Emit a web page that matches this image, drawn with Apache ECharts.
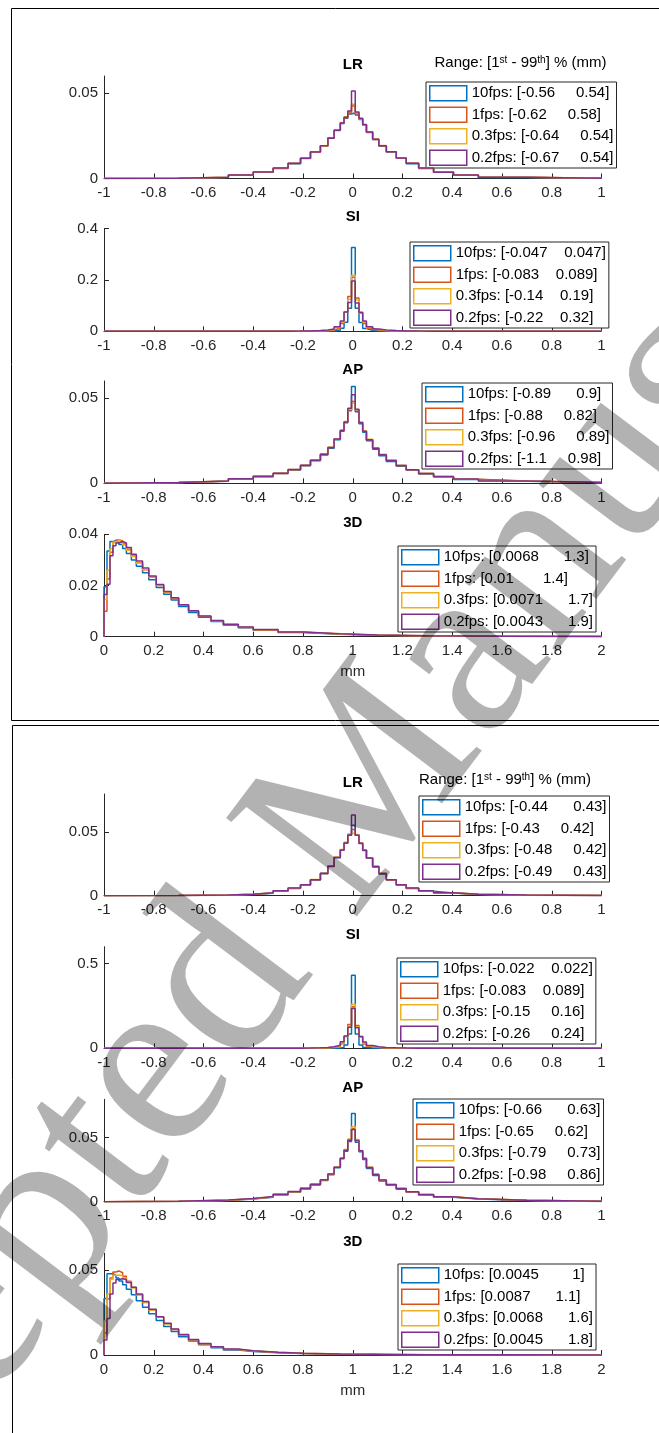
<!DOCTYPE html>
<html>
<head>
<meta charset="utf-8">
<script src="https://cdn.jsdelivr.net/npm/echarts@6/dist/echarts.min.js"></script>
<style>
html,body{margin:0;padding:0;background:#fff;}
#c{width:659px;height:1433px;}
</style>
</head>
<body>
<div id="c"></div>
<script>
// ---------------- DATA ----------------
const SERIES_NAMES = ['10fps', '1fps', '0.3fps', '0.2fps'];
const PANEL_TITLES = ['LR', 'SI', 'AP', '3D'];

// bin edges (mm)
const EDGES_SYM = [-1, -0.7, -0.5, -0.4, -0.32, -0.26, -0.21, -0.17, -0.13, -0.1, -0.075, -0.05, -0.035, -0.02, -0.005,
  0.01, 0.025, 0.04, 0.055, 0.08, 0.105, 0.135, 0.175, 0.215, 0.265, 0.325, 0.405, 0.505, 0.7, 1];
const EDGES_3D = [0, 0.012, 0.024, 0.036, 0.048, 0.06, 0.075, 0.09, 0.11, 0.13, 0.155, 0.18, 0.21, 0.24, 0.27, 0.3,
  0.34, 0.38, 0.43, 0.48, 0.54, 0.6, 0.7, 0.8, 0.95, 1.1, 1.3, 1.6, 2];

const X_TICKS_SYM = [-1, -0.8, -0.6, -0.4, -0.2, 0, 0.2, 0.4, 0.6, 0.8, 1];
const X_TICKS_3D = [0, 0.2, 0.4, 0.6, 0.8, 1, 1.2, 1.4, 1.6, 1.8, 2];

// ---- top figure ----
const TOP_LR_10 = [0.0001,0.0006,0.0019,0.0036,0.0059,0.0087,0.0118,0.0156,0.0192,0.0238,0.0283,0.0322,0.0352,0.0378,0.0385,0.0372,0.0345,0.0314,0.0272,0.0229,0.0190,0.0154,0.0118,0.0087,0.0059,0.0036,0.0019,0.0006,0.0001];
const TOP_LR_1  = [0.0001,0.0007,0.0020,0.0037,0.0060,0.0088,0.0117,0.0154,0.0190,0.0235,0.0281,0.0325,0.0356,0.0385,0.0425,0.0378,0.0348,0.0312,0.0270,0.0228,0.0191,0.0156,0.0120,0.0089,0.0061,0.0037,0.0020,0.0007,0.0001];
const TOP_LR_03 = [0.0001,0.0008,0.0021,0.0038,0.0061,0.0089,0.0118,0.0153,0.0189,0.0236,0.0284,0.0328,0.0362,0.0392,0.0435,0.0385,0.0350,0.0315,0.0273,0.0231,0.0193,0.0157,0.0121,0.0090,0.0061,0.0037,0.0020,0.0007,0.0001];
const TOP_LR_02 = [0.0001,0.0008,0.0021,0.0038,0.0061,0.0089,0.0119,0.0155,0.0191,0.0236,0.0282,0.0325,0.0358,0.0395,0.0512,0.0390,0.0352,0.0316,0.0272,0.0230,0.0192,0.0156,0.0120,0.0089,0.0061,0.0037,0.0020,0.0007,0.0001];

const TOP_SI_10 = [0,0,0,0,0,0.0001,0.0002,0.0004,0.0008,0.0015,0.004,0.012,0.035,0.09,0.326,0.09,0.034,0.011,0.004,0.0015,0.0008,0.0004,0.0002,0.0001,0,0,0,0,0];
const TOP_SI_1  = [0,0,0,0,0.0001,0.0003,0.0006,0.0012,0.0025,0.005,0.012,0.03,0.075,0.135,0.21,0.13,0.07,0.03,0.012,0.005,0.0025,0.0012,0.0006,0.0003,0.0001,0,0,0,0];
const TOP_SI_03 = [0,0,0,0.0001,0.0002,0.0005,0.001,0.002,0.0035,0.007,0.015,0.035,0.075,0.125,0.218,0.122,0.072,0.036,0.015,0.007,0.0035,0.002,0.001,0.0005,0.0002,0.0001,0,0,0];
const TOP_SI_02 = [0,0,0,0.0002,0.0004,0.0008,0.0015,0.003,0.005,0.009,0.018,0.04,0.075,0.112,0.196,0.11,0.074,0.04,0.018,0.009,0.005,0.003,0.0015,0.0008,0.0004,0.0002,0,0,0];

const TOP_AP_10 = [0.0004,0.0012,0.0024,0.0039,0.0057,0.0078,0.0103,0.0132,0.0166,0.0205,0.0255,0.0305,0.0355,0.0425,0.0568,0.0420,0.0350,0.0300,0.0250,0.0200,0.0162,0.0128,0.0100,0.0076,0.0055,0.0038,0.0023,0.0012,0.0004];
const TOP_AP_1  = [0.0004,0.0013,0.0025,0.0040,0.0058,0.0080,0.0105,0.0135,0.0170,0.0210,0.0260,0.0310,0.0360,0.0430,0.0480,0.0430,0.0355,0.0305,0.0255,0.0205,0.0168,0.0133,0.0104,0.0079,0.0057,0.0039,0.0024,0.0013,0.0004];
const TOP_AP_03 = [0.0005,0.0014,0.0026,0.0041,0.0059,0.0081,0.0106,0.0136,0.0171,0.0212,0.0262,0.0312,0.0362,0.0435,0.0470,0.0432,0.0358,0.0308,0.0258,0.0208,0.0170,0.0135,0.0105,0.0080,0.0058,0.0040,0.0025,0.0013,0.0004];
const TOP_AP_02 = [0.0005,0.0014,0.0026,0.0041,0.0059,0.0081,0.0106,0.0135,0.0170,0.0210,0.0260,0.0310,0.0360,0.0440,0.0520,0.0435,0.0357,0.0306,0.0256,0.0206,0.0168,0.0134,0.0105,0.0080,0.0058,0.0040,0.0025,0.0013,0.0005];

const TOP_3D_10 = [0.0195,0.0335,0.0372,0.0375,0.0368,0.036,0.0345,0.0325,0.0300,0.0275,0.025,0.0222,0.0192,0.0166,0.0143,0.0118,0.0095,0.0076,0.0059,0.0045,0.0035,0.0025,0.0016,0.001,0.0006,0.0003,0.00015,0.00005];
const TOP_3D_1  = [0.0099,0.0225,0.033,0.0368,0.0378,0.0375,0.0362,0.0342,0.0315,0.0288,0.0262,0.0232,0.0200,0.0174,0.0150,0.0123,0.0099,0.0079,0.0061,0.0047,0.0036,0.0026,0.0017,0.0011,0.0006,0.0003,0.00015,0.00005];
const TOP_3D_03 = [0.0145,0.026,0.0345,0.037,0.0376,0.037,0.0358,0.0338,0.0313,0.0287,0.0262,0.0233,0.0201,0.0175,0.0151,0.0124,0.0100,0.0080,0.0062,0.0048,0.0037,0.0027,0.0018,0.0011,0.0007,0.0004,0.0002,0.0001];
const TOP_3D_02 = [0.0165,0.0205,0.0316,0.0355,0.0366,0.0372,0.0366,0.0348,0.0322,0.0296,0.0268,0.0237,0.0204,0.0177,0.0152,0.0125,0.0101,0.0081,0.0063,0.0049,0.0038,0.0028,0.0018,0.0012,0.0007,0.0004,0.0002,0.0001];

// ---- bottom figure ----
const BOT_LR_10 = [0.0001,0.0004,0.001,0.002,0.0036,0.0056,0.0083,0.0123,0.0173,0.0229,0.0298,0.0358,0.0412,0.0475,0.0555,0.0475,0.041,0.0355,0.0295,0.0226,0.0171,0.0121,0.0082,0.0056,0.0036,0.0021,0.001,0.0004,0.0001];
const BOT_LR_1  = [0.0001,0.0005,0.0011,0.0021,0.0037,0.0058,0.0085,0.0125,0.0175,0.0232,0.0302,0.0362,0.0418,0.0482,0.052,0.048,0.0415,0.036,0.0298,0.023,0.0174,0.0124,0.0085,0.0058,0.0038,0.0022,0.0011,0.0005,0.0001];
const BOT_LR_03 = [0.0001,0.0005,0.0012,0.0023,0.0039,0.006,0.0087,0.0127,0.0177,0.0233,0.0302,0.0363,0.0418,0.0485,0.050,0.0482,0.0416,0.0361,0.0299,0.0231,0.0176,0.0126,0.0087,0.006,0.0039,0.0023,0.0012,0.0005,0.0001];
const BOT_LR_02 = [0.0001,0.0005,0.0012,0.0023,0.0039,0.006,0.0087,0.0126,0.0176,0.0232,0.0300,0.0360,0.0414,0.0478,0.0635,0.0476,0.0413,0.0358,0.0297,0.023,0.0175,0.0126,0.0087,0.006,0.0039,0.0023,0.0012,0.0005,0.0001];

const BOT_SI_10 = [0,0,0,0,0,0,0,0.0001,0.0002,0.0005,0.0015,0.005,0.02,0.085,0.431,0.085,0.02,0.005,0.0015,0.0005,0.0002,0.0001,0,0,0,0,0,0,0];
const BOT_SI_1  = [0,0,0,0,0.0001,0.0002,0.0005,0.001,0.002,0.004,0.01,0.027,0.07,0.14,0.245,0.135,0.068,0.026,0.01,0.004,0.002,0.001,0.0005,0.0002,0.0001,0,0,0,0];
const BOT_SI_03 = [0,0,0,0.0001,0.0002,0.0004,0.0008,0.0015,0.003,0.006,0.013,0.032,0.07,0.13,0.26,0.128,0.07,0.032,0.013,0.006,0.003,0.0015,0.0008,0.0004,0.0002,0.0001,0,0,0];
const BOT_SI_02 = [0,0,0.0001,0.0002,0.0004,0.0008,0.0015,0.003,0.005,0.009,0.018,0.038,0.072,0.125,0.235,0.122,0.07,0.037,0.017,0.009,0.005,0.003,0.0015,0.0008,0.0004,0.0002,0.0001,0,0];

const BOT_AP_10 = [0.0002,0.001,0.0021,0.0035,0.0053,0.0074,0.0099,0.013,0.0165,0.021,0.0265,0.0335,0.0395,0.047,0.069,0.0465,0.039,0.033,0.026,0.0205,0.0162,0.0128,0.0098,0.0073,0.0052,0.0035,0.0021,0.001,0.0002];
const BOT_AP_1  = [0.0003,0.0011,0.0023,0.0037,0.0056,0.0077,0.0103,0.0134,0.017,0.0215,0.027,0.034,0.0405,0.0485,0.057,0.048,0.0398,0.0338,0.0268,0.0212,0.0168,0.0133,0.0102,0.0076,0.0055,0.0037,0.0023,0.0011,0.0003];
const BOT_AP_03 = [0.0003,0.0012,0.0024,0.0038,0.0057,0.0078,0.0105,0.0136,0.0172,0.0217,0.0272,0.0342,0.0408,0.049,0.0585,0.0485,0.04,0.034,0.027,0.0215,0.017,0.0135,0.0105,0.0078,0.0057,0.0038,0.0024,0.0012,0.0003];
const BOT_AP_02 = [0.0004,0.0013,0.0025,0.004,0.0058,0.008,0.0106,0.0137,0.0172,0.0216,0.027,0.034,0.0402,0.048,0.0565,0.0478,0.0398,0.0338,0.0268,0.0213,0.0169,0.0134,0.0104,0.0077,0.0056,0.0038,0.0024,0.0012,0.0003];

const BOT_3D_10 = [0.0333,0.048,0.048,0.047,0.0455,0.0437,0.0415,0.0388,0.0355,0.032,0.0282,0.0243,0.0203,0.0168,0.0138,0.0108,0.0082,0.006,0.0043,0.003,0.0021,0.0014,0.0009,0.0005,0.0003,0.0002,0.0001,0.00005];
const BOT_3D_1  = [0.013,0.033,0.0455,0.049,0.0496,0.0485,0.0465,0.0435,0.0398,0.0355,0.031,0.0265,0.0222,0.0184,0.0151,0.0118,0.0089,0.0066,0.0047,0.0033,0.0023,0.0015,0.0009,0.0005,0.0003,0.0002,0.0001,0.00005];
const BOT_3D_03 = [0.02,0.036,0.0445,0.047,0.0472,0.0468,0.0455,0.043,0.0396,0.0355,0.0311,0.0266,0.0223,0.0185,0.0152,0.0119,0.009,0.0067,0.0048,0.0034,0.0024,0.0016,0.001,0.0006,0.0004,0.0002,0.0001,0.00005];
const BOT_3D_02 = [0.0088,0.0216,0.036,0.0425,0.0445,0.045,0.0445,0.0428,0.04,0.036,0.0316,0.027,0.0226,0.0187,0.0154,0.0121,0.0092,0.0068,0.0049,0.0035,0.0025,0.0016,0.001,0.0006,0.0004,0.0002,0.0001,0.00005];

// legend ranges [1st, 99th] percentiles (mm)
const TOP_LR_LO = ['-0.56', '-0.62', '-0.64', '-0.67'];   const TOP_LR_HI = ['0.54', '0.58', '0.54', '0.54'];
const TOP_SI_LO = ['-0.047', '-0.083', '-0.14', '-0.22']; const TOP_SI_HI = ['0.047', '0.089', '0.19', '0.32'];
const TOP_AP_LO = ['-0.89', '-0.88', '-0.96', '-1.1'];    const TOP_AP_HI = ['0.9', '0.82', '0.89', '0.98'];
const TOP_3D_LO = ['0.0068', '0.01', '0.0071', '0.0043']; const TOP_3D_HI = ['1.3', '1.4', '1.7', '1.9'];
const BOT_LR_LO = ['-0.44', '-0.43', '-0.48', '-0.49'];   const BOT_LR_HI = ['0.43', '0.42', '0.42', '0.43'];
const BOT_SI_LO = ['-0.022', '-0.083', '-0.15', '-0.26']; const BOT_SI_HI = ['0.022', '0.089', '0.16', '0.24'];
const BOT_AP_LO = ['-0.66', '-0.65', '-0.79', '-0.98'];   const BOT_AP_HI = ['0.63', '0.62', '0.73', '0.86'];
const BOT_3D_LO = ['0.0045', '0.0087', '0.0068', '0.0045']; const BOT_3D_HI = ['1', '1.1', '1.6', '1.8'];

// y axis extents and tick values
const Y_MAX   = [0.06, 0.4, 0.06, 0.04, 0.08, 0.6, 0.08, 0.06];
const Y_TICKS = [[0, 0.05], [0, 0.2, 0.4], [0, 0.05], [0, 0.02, 0.04], [0, 0.05], [0, 0.5], [0, 0.05], [0, 0.05]];

// ---------------- LAYOUT / STYLE ----------------
const COLORS = ['#0072BD', '#D95319', '#EDB120', '#7E2F8E'];
const AX = '#262626';
const FONT = '"Liberation Sans", Arial, Helvetica, sans-serif';
const PLOT_LEFT = 104, PLOT_W = 497.5;
const GRID_TOPS = [76, 228.5, 381, 534.3, 794, 946.7, 1099.3, 1253.3];
const GRID_H = [102.5, 102.8, 102.3, 102.4, 101.7, 101.6, 102.4, 101.7];
const LEG_POS = [[426, 82], [410, 242], [422, 383], [398, 546], [419, 796], [397, 958], [413, 1099], [398, 1264]];
const GAPS = [[5,5,5,5], [4,4,4,4], [6,5,5,5], [6,7,6,6], [6,5,5,5], [4,4,5,5], [6,5,5,5], [8,6,6,6]];

const PLOT_DATA = [
  [TOP_LR_10, TOP_LR_1, TOP_LR_03, TOP_LR_02], [TOP_SI_10, TOP_SI_1, TOP_SI_03, TOP_SI_02],
  [TOP_AP_10, TOP_AP_1, TOP_AP_03, TOP_AP_02], [TOP_3D_10, TOP_3D_1, TOP_3D_03, TOP_3D_02],
  [BOT_LR_10, BOT_LR_1, BOT_LR_03, BOT_LR_02], [BOT_SI_10, BOT_SI_1, BOT_SI_03, BOT_SI_02],
  [BOT_AP_10, BOT_AP_1, BOT_AP_03, BOT_AP_02], [BOT_3D_10, BOT_3D_1, BOT_3D_03, BOT_3D_02]
];
const PLOT_LO = [TOP_LR_LO, TOP_SI_LO, TOP_AP_LO, TOP_3D_LO, BOT_LR_LO, BOT_SI_LO, BOT_AP_LO, BOT_3D_LO];
const PLOT_HI = [TOP_LR_HI, TOP_SI_HI, TOP_AP_HI, TOP_3D_HI, BOT_LR_HI, BOT_SI_HI, BOT_AP_HI, BOT_3D_HI];

function stairs(edges, vals) {
  const pts = [[edges[0], 0]];
  for (let i = 0; i < vals.length; i++) pts.push([edges[i], vals[i]]);
  pts.push([edges[vals.length], vals[vals.length - 1]]);
  pts.push([edges[vals.length], 0]);
  return pts;
}

const grids = [], xAxes = [], yAxes = [], series = [], legends = [], graphics = [];
const labelMap = {};

for (let i = 0; i < 8; i++) {
  const is3D = (i % 4) === 3;
  const ticksX = is3D ? X_TICKS_3D : X_TICKS_SYM;
  const edges = is3D ? EDGES_3D : EDGES_SYM;
  grids.push({ left: PLOT_LEFT, width: PLOT_W, top: GRID_TOPS[i], height: GRID_H[i] });
  xAxes.push({
    gridIndex: i, type: 'value', min: ticksX[0], max: ticksX[ticksX.length - 1], interval: 0.2,
    axisLine: { show: true, onZero: false, lineStyle: { color: AX, width: 1 } },
    axisTick: { show: true, inside: true, length: 5, lineStyle: { color: AX, width: 1 } },
    axisLabel: { color: AX, fontSize: 15, fontFamily: FONT, margin: 7, showMinLabel: true, showMaxLabel: true },
    splitLine: { show: false },
    name: is3D ? 'mm' : '', nameLocation: 'middle', nameGap: 28,
    nameTextStyle: { color: AX, fontSize: 15, fontFamily: FONT }
  });
  yAxes.push({
    gridIndex: i, type: 'value', min: 0, max: Y_MAX[i],
    axisLine: { show: true, onZero: false, lineStyle: { color: AX, width: 1 } },
    axisTick: { show: true, inside: true, length: 5, customValues: Y_TICKS[i], lineStyle: { color: AX, width: 1 } },
    axisLabel: { show: true, customValues: Y_TICKS[i], color: AX, fontSize: 15, fontFamily: FONT, margin: 6 },
    splitLine: { show: false }
  });
  const legendData = [];
  for (let k = 0; k < 4; k++) {
    const nm = 'p' + i + '_' + k;
    labelMap[nm] = SERIES_NAMES[k] + ': [' + PLOT_LO[i][k] + ' '.repeat(GAPS[i][k]) + PLOT_HI[i][k] + ']';
    series.push({
      name: nm, type: 'line', xAxisIndex: i, yAxisIndex: i, step: 'end',
      showSymbol: false, symbol: 'none', silent: true, z: 2 + k,
      lineStyle: { color: COLORS[k], width: 1.5 }, itemStyle: { color: COLORS[k] },
      data: stairs(edges, PLOT_DATA[i][k])
    });
    legendData.push({ name: nm, icon: 'rect',
      itemStyle: { color: 'rgba(0,0,0,0)', borderColor: COLORS[k], borderWidth: 1.5 } });
  }
  legends.push({
    left: LEG_POS[i][0], top: LEG_POS[i][1], orient: 'vertical',
    itemWidth: 37, itemHeight: 15, itemGap: 5, padding: [3, 3, 2, 3],
    borderColor: AX, borderWidth: 1, backgroundColor: '#fff', borderRadius: 0,
    selectedMode: false,
    textStyle: { fontSize: 15, fontFamily: FONT, color: '#000', lineHeight: 15 },
    data: legendData,
    formatter: (name) => labelMap[name]
  });
  graphics.push({
    type: 'text', x: PLOT_LEFT + PLOT_W / 2, y: GRID_TOPS[i] - 11.5, silent: true,
    style: { text: PANEL_TITLES[i % 4], font: 'bold 15px ' + FONT, fill: '#000',
      align: 'center', verticalAlign: 'middle', textAlign: 'center', textVerticalAlign: 'middle' }
  });
}

// range headers
[[520.5, 63], [505, 779.5]].forEach(p => {
  graphics.push({
    type: 'text', x: p[0], y: p[1], silent: true,
    style: {
      text: 'Range: [1{sup|st} - 99{sup|th}] % (mm)',
      font: '15px ' + FONT, fill: '#000',
      align: 'center', verticalAlign: 'middle', textAlign: 'center', textVerticalAlign: 'middle',
      rich: { sup: { fontSize: 10, fontFamily: FONT, verticalAlign: 'top', fill: '#000', lineHeight: 10 } }
    }
  });
});

// figure frames
graphics.push({ type: 'rect', silent: true, shape: { x: 11.5, y: 8.5, width: 700, height: 712 },
  style: { fill: 'none', stroke: '#000', lineWidth: 1 } });
graphics.push({ type: 'rect', silent: true, shape: { x: 12.5, y: 725.5, width: 700, height: 800 },
  style: { fill: 'none', stroke: '#000', lineWidth: 1 } });

// watermark
graphics.push({
  type: 'text', x: 340, y: 830, rotation: 53 * Math.PI / 180, z: 100, silent: true,
  style: { text: 'Accepted Manuscript', font: '250px "Liberation Serif", "DejaVu Serif", serif',
    fill: 'rgba(0,0,0,0.3)', align: 'center', verticalAlign: 'middle', textAlign: 'center', textVerticalAlign: 'middle' }
});

const chart = echarts.init(document.getElementById('c'), null, { renderer: 'canvas', width: 659, height: 1433 });
chart.setOption({
  animation: false,
  backgroundColor: '#fff',
  grid: grids, xAxis: xAxes, yAxis: yAxes,
  legend: legends, series: series,
  graphic: { elements: graphics }
});
</script>
</body>
</html>
